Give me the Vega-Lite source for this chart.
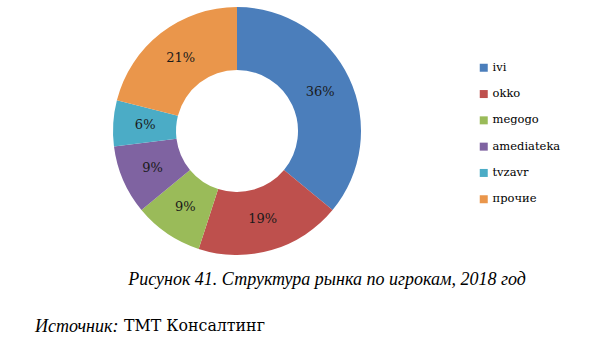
{
  "$schema": "https://vega.github.io/schema/vega-lite/v6.json",
  "padding": 0,
  "background": "white",
  "config": {"view": {"stroke": null}, "font": "DejaVu Serif"},
  "title": {"text": "Источник:", "orient": "bottom", "anchor": "start", "frame": "bounds", "dx": 35, "offset": -16, "font": "Liberation Serif", "fontStyle": "italic", "fontWeight": "normal", "fontSize": 18, "color": "#000000"},
  "vconcat": [
    {
      "title": {"text": "ТМТ Консалтинг", "orient": "bottom", "anchor": "start", "frame": "bounds", "dx": 124, "offset": 30, "font": "DejaVu Serif", "fontStyle": "normal", "fontWeight": "normal", "fontSize": 15.8, "color": "#000000"},
      "vconcat": [
        {
          "width": 474,
          "height": 262,
          "title": {"text": "Рисунок 41. Структура рынка по игрокам, 2018 год", "orient": "bottom", "anchor": "middle", "dx": 90, "offset": 9, "font": "Liberation Serif", "fontStyle": "italic", "fontWeight": "normal", "fontSize": 18, "color": "#000000"},
          "data": {"values": [
            {"player": "ivi", "share": 36, "order": 1, "label": "36%"},
            {"player": "okko", "share": 19, "order": 2, "label": "19%"},
            {"player": "megogo", "share": 9, "order": 3, "label": "9%"},
            {"player": "amediateka", "share": 9, "order": 4, "label": "9%"},
            {"player": "tvzavr", "share": 6, "order": 5, "label": "6%"},
            {"player": "прочие", "share": 21, "order": 6, "label": "21%"}
          ]},
          "encoding": {
            "theta": {"field": "share", "type": "quantitative", "stack": true},
            "order": {"field": "order", "type": "quantitative"}
          },
          "layer": [
            {
              "mark": {"type": "arc", "outerRadius": 124, "innerRadius": 61},
              "encoding": {
                "color": {
                  "field": "player", "type": "nominal",
                  "scale": {"domain": ["ivi", "okko", "megogo", "amediateka", "tvzavr", "прочие"],
                            "range": ["#4B7EBB", "#BE504D", "#9ABB59", "#7F63A1", "#4BACC6", "#EA964B"]},
                  "legend": {"title": null, "orient": "none", "legendX": 478, "legendY": 62, "symbolType": "square", "symbolSize": 64, "symbolStrokeWidth": 0, "labelFont": "DejaVu Serif", "labelFontSize": 11.5, "labelColor": "#000000", "labelOffset": 3, "rowPadding": 13.3}
                }
              }
            },
            {
              "mark": {"type": "text", "radius": 92, "font": "DejaVu Serif", "fontSize": 13, "color": "#1a1a1a"},
              "encoding": {"text": {"field": "label", "type": "nominal"}}
            }
          ]
        }
      ]
    }
  ]
}
